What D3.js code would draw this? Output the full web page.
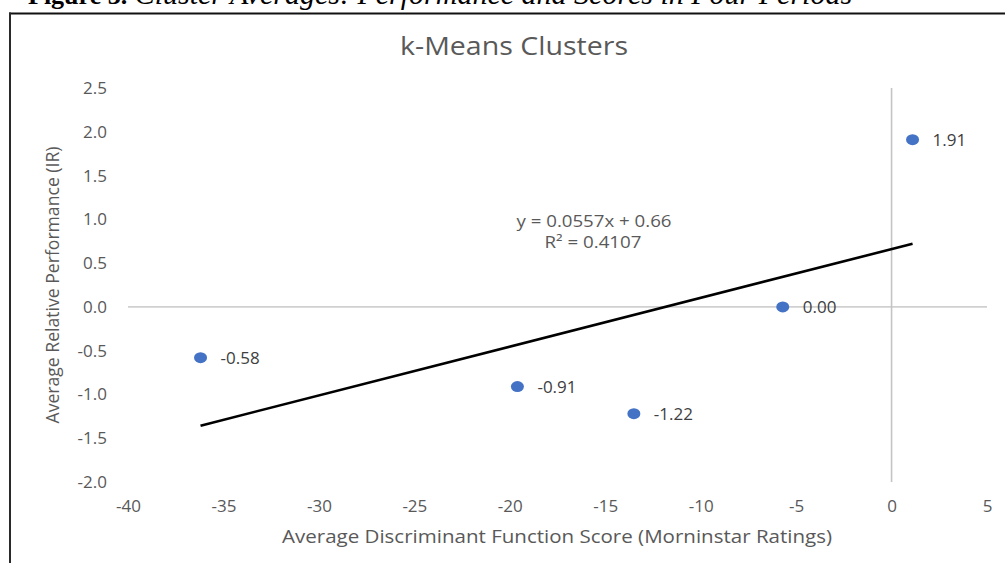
<!DOCTYPE html>
<html>
<head>
<meta charset="utf-8">
<script src="https://cdn.jsdelivr.net/npm/d3@7"></script>
<style>
  body { margin: 0; background: #fff; }
  svg text { font-family: "Open Sans", "Noto Sans", sans-serif; fill: #595959; }
</style>
</head>
<body>
<svg id="chart" width="1005" height="563"></svg>
<script>
// Cluster averages: discriminant score (x) vs. relative performance (y)
const clusterScores      = [1.1, -5.7, -36.2, -19.6, -13.5];
const clusterPerformance = [1.91, 0.00, -0.58, -0.91, -1.22];

const xTicks = [-40, -35, -30, -25, -20, -15, -10, -5, 0, 5];
const yTicks = [-2.0, -1.5, -1.0, -0.5, 0.0, 0.5, 1.0, 1.5, 2.0, 2.5];

// Linear trendline fitted to the cluster averages
const trendSlope = 0.0557;
const trendIntercept = 0.66;
const trendR2 = 0.4107;

const captionBold = "Figure 3.";
const captionItalic = " Cluster Averages: Performance and Scores in Four Periods";
const chartTitle = "k-Means Clusters";
const xTitle = "Average Discriminant Function Score (Morninstar Ratings)";
const yTitle = "Average Relative Performance (IR)";

const W = 1005, H = 563;
const plot = { left: 128, right: 987, top: 88, bottom: 482 };

const svg = d3.select("#chart");

const x = d3.scaleLinear().domain([xTicks[0], xTicks[xTicks.length - 1]]).range([plot.left, plot.right]);
const y = d3.scaleLinear().domain([yTicks[0], yTicks[yTicks.length - 1]]).range([plot.bottom, plot.top]);

// Figure caption above the chart frame
const cap = svg.append("text")
  .attr("x", 28).attr("y", 4)
  .style("font-family", "'Liberation Serif', 'Times New Roman', serif")
  .style("fill", "#000");
cap.append("tspan").style("font-weight", "bold").style("font-size", "26px").style("fill", "#000").text(captionBold);
cap.append("tspan").style("font-style", "italic").style("font-size", "30px").style("fill", "#000").text(captionItalic);

// Chart frame: top and left borders
svg.append("line").attr("x1", 9).attr("x2", W).attr("y1", 13.5).attr("y2", 13.5)
  .attr("stroke", "#111").attr("stroke-width", 2);
svg.append("line").attr("x1", 10).attr("x2", 10).attr("y1", 12.5).attr("y2", H)
  .attr("stroke", "#2a2a2a").attr("stroke-width", 2);

// Title
svg.append("text")
  .attr("x", 514).attr("y", 55)
  .attr("text-anchor", "middle")
  .attr("textLength", 228).attr("lengthAdjust", "spacingAndGlyphs")
  .style("font-size", "25px")
  .text(chartTitle);

// Axis lines through the origin
svg.append("line")
  .attr("x1", x(xTicks[0])).attr("x2", x(xTicks[xTicks.length - 1]))
  .attr("y1", y(0)).attr("y2", y(0))
  .attr("stroke", "#d0d0d0").attr("stroke-width", 1.6);
svg.append("line")
  .attr("x1", x(0)).attr("x2", x(0))
  .attr("y1", y(yTicks[0])).attr("y2", y(yTicks[yTicks.length - 1]))
  .attr("stroke", "#c4c4c4").attr("stroke-width", 1.6);

// Tick labels
const yAxis = svg.append("g")
  .attr("transform", `translate(${plot.left},0)`)
  .call(d3.axisLeft(y).tickValues(yTicks).tickSize(0).tickPadding(21).tickFormat(d => d.toFixed(1)));
const xAxis = svg.append("g")
  .attr("transform", `translate(0,${plot.bottom})`)
  .call(d3.axisBottom(x).tickValues(xTicks).tickSize(0).tickPadding(18).tickFormat(d => String(d)));
[yAxis, xAxis].forEach(g => {
  g.select(".domain").remove();
  g.selectAll("text")
    .style("font-family", "'Open Sans', sans-serif")
    .style("font-size", "17px")
    .attr("fill", "#595959");
});

// Axis titles
svg.append("text")
  .attr("x", 557).attr("y", 543)
  .attr("text-anchor", "middle")
  .attr("textLength", 550).attr("lengthAdjust", "spacingAndGlyphs")
  .style("font-size", "18px")
  .text(xTitle);
svg.append("text")
  .attr("transform", `translate(59,${(plot.top + plot.bottom) / 2}) rotate(-90)`)
  .attr("text-anchor", "middle")
  .attr("textLength", 277).attr("lengthAdjust", "spacingAndGlyphs")
  .style("font-size", "18px")
  .text(yTitle);

// Trendline across the range of the data
const xExt = d3.extent(clusterScores);
svg.append("line")
  .attr("x1", x(xExt[0])).attr("y1", y(trendSlope * xExt[0] + trendIntercept))
  .attr("x2", x(xExt[1])).attr("y2", y(trendSlope * xExt[1] + trendIntercept))
  .attr("stroke", "#000").attr("stroke-width", 2.6);

// Trendline equation
svg.append("text")
  .attr("x", 594).attr("y", 227)
  .attr("text-anchor", "middle")
  .attr("textLength", 155).attr("lengthAdjust", "spacingAndGlyphs")
  .style("font-size", "16px")
  .text(`y = ${trendSlope}x + ${trendIntercept}`);
svg.append("text")
  .attr("x", 593).attr("y", 248)
  .attr("text-anchor", "middle")
  .attr("textLength", 97).attr("lengthAdjust", "spacingAndGlyphs")
  .style("font-size", "16px")
  .text(`R² = ${trendR2}`);

// Cluster points and value labels
const points = clusterScores.map((s, i) => ({ s, p: clusterPerformance[i] }));
svg.append("g").selectAll("ellipse").data(points).join("ellipse")
  .attr("cx", d => x(d.s)).attr("cy", d => y(d.p))
  .attr("rx", 6.5).attr("ry", 5.5)
  .attr("fill", "#4472c4");
svg.append("g").selectAll("text").data(points).join("text")
  .attr("x", d => x(d.s) + 20).attr("y", d => y(d.p))
  .attr("dy", "0.35em")
  .style("font-size", "17px")
  .style("fill", "#404040")
  .text(d => d.p.toFixed(2));
</script>
</body>
</html>
